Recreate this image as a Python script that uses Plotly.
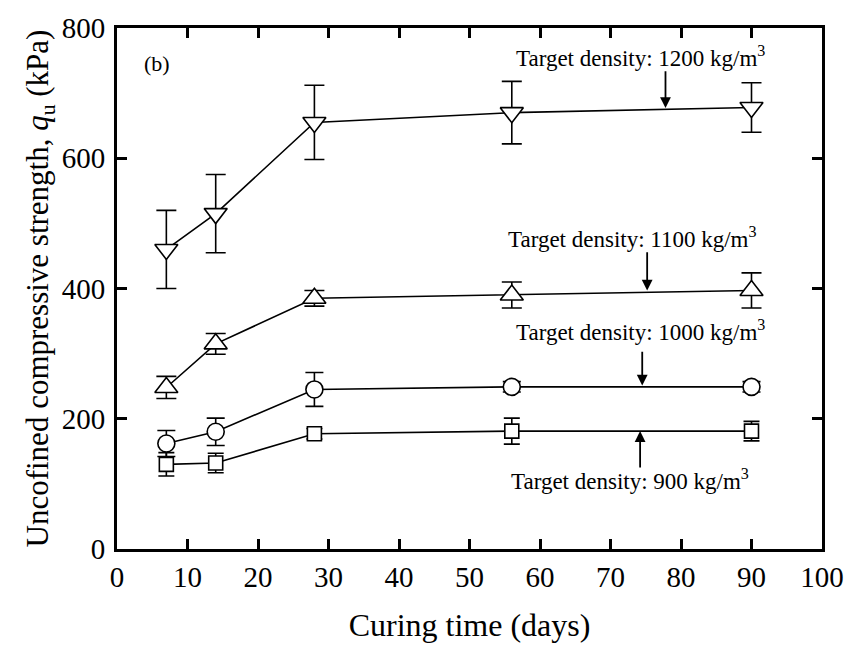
import plotly.graph_objects as go

# Curing time (days) and unconfined compressive strength (kPa) per target density
curing_days = [7, 14, 28, 56, 90]

qu_900 = [130, 132, 177, 181, 181]
err_900 = [18, 15, 8, 20, 15]

qu_1000 = [162, 180, 245, 249, 249]
err_1000 = [20, 21, 26, 8, 8]

qu_1100 = [248, 315, 385, 390, 397]
err_1100 = [17, 16, 12, 20, 27]

qu_1200 = [460, 515, 655, 670, 678]
err_1200 = [60, 60, 57, 48, 38]

series = [
    ("900", qu_900, err_900, "square", 14, 8),
    ("1000", qu_1000, err_1000, "circle", 17, 9),
    ("1100", qu_1100, err_1100, "triangle-up", 20, 10),
    ("1200", qu_1200, err_1200, "triangle-down", 20, 10),
]

# Label text, label centre (x, y), arrow x, arrow tail y, arrow head y
labels = [
    ("1200", 74.3, 756, 77.8, 736, 677),
    ("1100", 73.1, 479, 75.2, 458, 397),
    ("1000", 74.3, 335, 74.5, 305, 251),
    ("900", 72.8, 107, 74.2, 123, 181),
]

FONT = "Liberation Serif, Times New Roman, serif"

fig = go.Figure()
for name, vals, errs, sym, size, capw in series:
    fig.add_trace(go.Scatter(
        x=curing_days, y=vals, name=name, mode="lines+markers",
        line=dict(color="black", width=1.6),
        marker=dict(symbol=sym, size=size, color="white",
                    line=dict(color="black", width=1.6)),
        error_y=dict(type="data", array=errs, visible=True,
                     color="black", thickness=1.6, width=capw),
        showlegend=False,
    ))

annotations = [
    dict(x=3.6, y=746, xref="x", yref="y", text="(b)", showarrow=False,
         xanchor="left", font=dict(family=FONT, size=22, color="black")),
]
for dens, tx, ty, axx, ytail, yhead in labels:
    annotations.append(dict(
        x=tx, y=ty, xref="x", yref="y", showarrow=False,
        text=f"Target density: {dens} kg/m<sup>3</sup>",
        font=dict(family=FONT, size=23, color="black"),
    ))
    annotations.append(dict(
        x=axx, y=yhead, ax=axx, ay=ytail, xref="x", yref="y",
        axref="x", ayref="y", text="", showarrow=True,
        arrowhead=2, arrowsize=1.2, arrowwidth=1.8, arrowcolor="black",
        standoff=0, startstandoff=0,
    ))

axis_common = dict(
    showline=True, linecolor="black", linewidth=3, mirror="ticks",
    ticks="inside", ticklen=10, tickwidth=3, tickcolor="black",
    showgrid=False, zeroline=False,
    tickfont=dict(family=FONT, size=29, color="black"),
)

fig.update_layout(
    width=856, height=651,
    margin=dict(l=117, r=26, t=21, b=102),
    paper_bgcolor="white", plot_bgcolor="white",
    xaxis=dict(range=[0, 100], dtick=10, **axis_common,
               title=dict(text="Curing time (days)",
                          font=dict(family=FONT, size=32, color="black"),
                          standoff=22)),
    yaxis=dict(range=[0, 800], dtick=200, **axis_common,
               ticklabelstandoff=3,
               title=dict(text="Uncofined compressive strength, <i>q</i><sub>u</sub> (kPa)",
                          font=dict(family=FONT, size=31, color="black"),
                          standoff=4)),
    annotations=annotations,
)

fig.write_html("out.html")
